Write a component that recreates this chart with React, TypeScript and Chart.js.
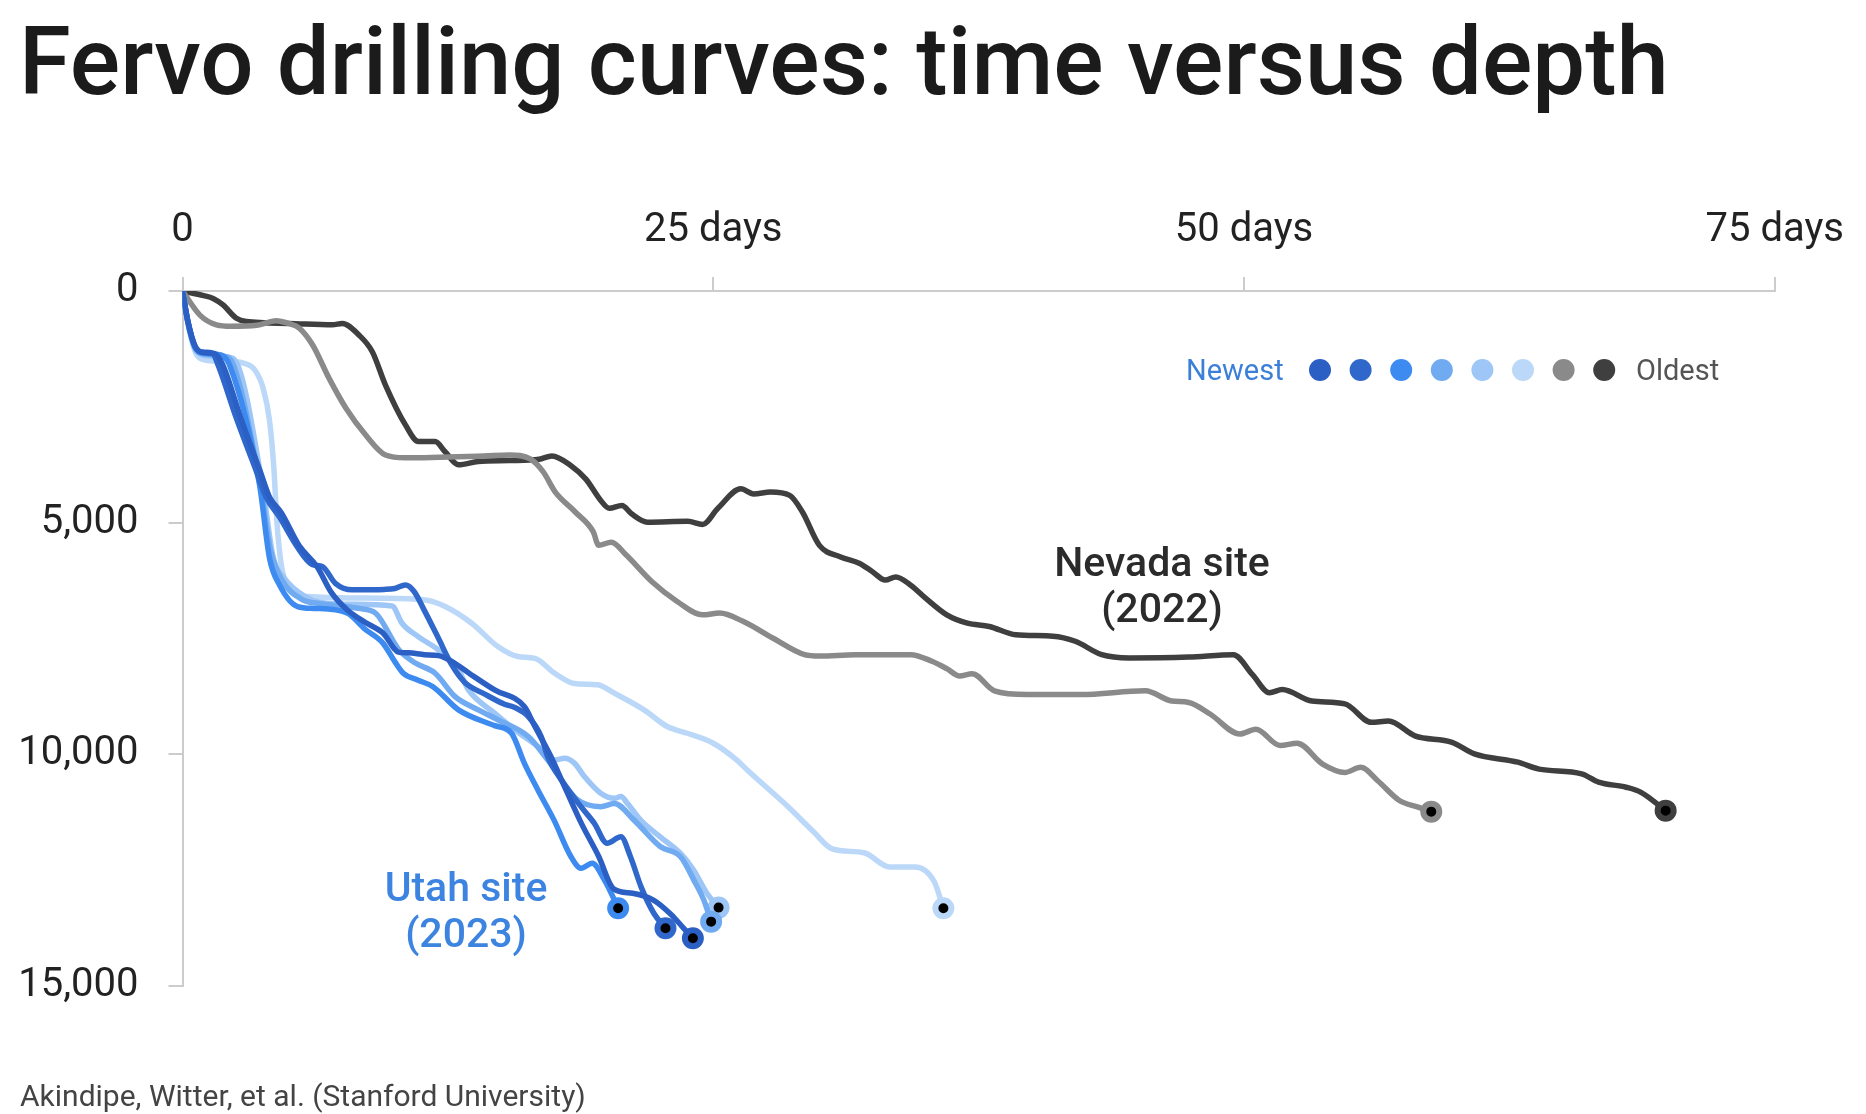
import { useEffect, useRef } from "react";
import { Chart, registerables } from "chart.js";

Chart.register(...registerables);

// [days, depth in feet]
type Pt = [number, number];

const xTicks = [0, 25, 50, 75];
const yTicks = [0, 5000, 10000, 15000];

// Utah site (2023), newest first
const utahA: Pt[] = [
  [0, 0], [0.25, 650], [0.6, 1200], [1.0, 1330], [1.5, 1350], [1.9, 1600], [2.75, 2750], [3.65, 3880],
  [4.1, 4450], [4.66, 4790], [5.5, 5500], [6.34, 5950], [7.0, 6500], [7.75, 6880], [8.6, 7150], [9.44, 7380],
  [10.2, 7800], [10.64, 7810], [11.4, 7850], [12.06, 7870], [12.7, 8000], [13.5, 8250], [14.7, 8610],
  [16.1, 8970], [16.6, 9400], [17.3, 10000], [18.0, 10700], [18.8, 11500], [19.6, 12200], [20.3, 12900],
  [21.2, 13000], [22.2, 13150], [23.0, 13450], [23.6, 13750], [24.04, 13969],
];
const utahB: Pt[] = [
  [0, 0], [0.25, 650], [0.6, 1200], [1.0, 1320], [1.4, 1340], [1.68, 1600], [2.54, 2750], [3.47, 3880],
  [3.94, 4450], [4.57, 4880], [5.4, 5520], [6.1, 5900], [6.6, 5950], [7.2, 6310], [8.0, 6450], [9.5, 6440],
  [10.0, 6420], [10.5, 6345], [10.9, 6480], [11.42, 6920], [12.05, 7490], [12.67, 8060], [13.3, 8450],
  [14.24, 8700], [15.17, 8920], [15.65, 8990], [16.3, 9190], [16.9, 9620], [17.2, 10050], [17.84, 10550],
  [18.77, 11130], [19.4, 11490], [20.0, 11920], [20.65, 11780], [21.1, 12210], [21.6, 12860], [22.2, 13430],
  [22.75, 13753],
];
const utahC: Pt[] = [
  [0, 0], [0.25, 650], [0.6, 1220], [1.0, 1340], [1.8, 1380], [2.22, 1600], [3.63, 4190], [4.1, 5770],
  [4.57, 6345], [5.42, 6810], [6.2, 6850], [7.75, 6950], [8.6, 7300], [9.44, 7600], [10.0, 8000], [10.4, 8250],
  [11.1, 8400], [11.8, 8540], [13.0, 9040], [14.7, 9380], [15.5, 9545], [16.1, 10190], [16.74, 10770],
  [17.5, 11420], [18.3, 12210], [18.77, 12460], [19.3, 12350], [19.87, 12710], [20.34, 13140], [20.52, 13322],
];
const utahD: Pt[] = [
  [0, 0], [0.25, 680], [0.6, 1250], [1.0, 1360], [1.9, 1400], [2.4, 1600], [3.7, 4300], [4.15, 5600],
  [4.7, 6250], [5.6, 6650], [6.5, 6750], [7.5, 6800], [8.3, 6850], [9.1, 6955], [10.2, 7750], [10.97, 8030],
  [11.9, 8250], [12.84, 8755], [13.93, 9040], [14.87, 9260], [16.3, 9620], [17.2, 10120], [18.6, 10980],
  [19.7, 11130], [20.34, 11060], [21.27, 11420], [22.5, 11990], [23.46, 12210], [24.08, 12710],
  [24.55, 13140], [24.9, 13611],
];
const utahE: Pt[] = [
  [0, 0], [0.3, 750], [0.7, 1300], [1.2, 1400], [2.1, 1420], [2.6, 1600], [3.8, 4300], [4.25, 5700],
  [4.8, 6200], [5.8, 6600], [6.5, 6720], [8.0, 6760], [9.87, 6800], [10.34, 7170], [11.1, 7460], [12.06, 7750],
  [13.0, 8180], [13.47, 8610], [14.7, 9110], [15.65, 9470], [16.74, 9830], [17.53, 10120], [18.0, 10085],
  [18.46, 10190], [18.93, 10480], [19.7, 10840], [20.34, 10950], [20.65, 10910], [20.96, 11060],
  [21.58, 11420], [22.5, 11780], [23.46, 12140], [24.08, 12500], [24.7, 13000], [25.25, 13308],
];
const utahF: Pt[] = [
  [0, 0], [0.3, 800], [0.7, 1400], [1.2, 1500], [2.0, 1520], [2.9, 1560], [3.4, 1700], [3.8, 2100],
  [4.1, 2800], [4.3, 3800], [4.45, 5000], [4.65, 5900], [5.0, 6400], [6.13, 6600], [9.25, 6630], [11.44, 6670],
  [12.37, 6810], [13.62, 7170], [14.87, 7680], [15.8, 7890], [16.6, 7930], [17.53, 8250], [18.46, 8470],
  [19.56, 8500], [20.34, 8680], [21.74, 9040], [22.83, 9400], [23.77, 9545], [25.0, 9760], [26.1, 10120],
  [26.6, 10340], [28.5, 11120], [29.7, 11660], [30.6, 12040], [32.1, 12125], [33.3, 12430], [34.5, 12430],
  [35.4, 12740], [35.84, 13322],
];

// Nevada site (2022)
const nevadaB: Pt[] = [
  [0, 0], [0.82, 520], [1.6, 730], [2.3, 760], [3.5, 740], [4.41, 640], [5.0, 700], [5.5, 800], [6.13, 1165],
  [6.9, 1880], [7.7, 2530], [8.63, 3110], [9.56, 3540], [10.5, 3600], [14.2, 3560], [15.4, 3540], [16.4, 3630],
  [17.0, 3910], [17.56, 4340], [18.5, 4770], [19.35, 5200], [19.6, 5490], [20.2, 5420], [20.9, 5700],
  [22.1, 6270], [23.3, 6700], [24.5, 6990], [25.3, 6950], [26.4, 7130], [27.8, 7490], [29.3, 7850],
  [30.0, 7880], [31.7, 7850], [34.3, 7850], [35.3, 7990], [36.0, 8150], [36.6, 8310], [37.2, 8260],
  [38.24, 8630], [39.8, 8710], [42.3, 8710], [45.35, 8630], [46.6, 8850], [47.4, 8880], [48.4, 9130],
  [49.8, 9560], [50.56, 9460], [51.7, 9810], [52.5, 9760], [53.7, 10210], [54.75, 10390], [55.5, 10280],
  [56.3, 10570], [57.3, 10990], [58.2, 11140], [58.82, 11237],
];
const nevadaA: Pt[] = [
  [0, 0], [1.0, 100], [1.44, 160], [1.91, 300], [2.54, 590], [3.0, 660], [5.0, 700], [7.06, 730], [7.53, 700],
  [8.31, 950], [8.94, 1310], [9.56, 2030], [10.5, 2890], [11.12, 3250], [11.9, 3250], [12.37, 3470],
  [13.0, 3750], [13.93, 3680], [15.4, 3660], [16.8, 3630], [17.4, 3560], [18.3, 3770], [19.0, 4060],
  [19.7, 4520], [20.1, 4690], [20.7, 4630], [21.15, 4810], [21.9, 4990], [23.8, 4970], [24.5, 5040],
  [25.2, 4700], [26.3, 4270], [26.9, 4380], [27.7, 4340], [28.6, 4410], [29.2, 4770], [30.0, 5490],
  [31.0, 5740], [31.9, 5880], [32.5, 6060], [33.1, 6240], [33.6, 6170], [34.3, 6350], [35.0, 6630],
  [36.0, 6990], [36.97, 7170], [38.0, 7240], [39.25, 7420], [41.0, 7450], [42.05, 7560], [43.3, 7850],
  [44.6, 7920], [47.4, 7900], [49.5, 7850], [50.4, 8280], [51.2, 8670], [51.8, 8600], [53.2, 8850],
  [54.75, 8910], [56.0, 9310], [56.8, 9280], [58.05, 9600], [59.8, 9740], [60.85, 9990], [62.9, 10170],
  [63.9, 10320], [65.9, 10420], [66.7, 10600], [68.0, 10710], [68.7, 10820], [69.86, 11215],
];

// newest -> oldest, same order as the legend dots
const wells = [utahA, utahB, utahC, utahD, utahE, utahF, nevadaB, nevadaA];
const wellColors = ["#2b5fc3", "#2f68ca", "#3d8bf0", "#70aaf1", "#9ec6f6", "#bcd8f9", "#8a8a8a", "#3f3f3f"];

const title = "Fervo drilling curves: time versus depth";
const source = "Akindipe, Witter, et al. (Stanford University)";

const textPlugin = {
  id: "textLayer",
  afterDraw(chart: Chart) {
    const ctx = chart.ctx;
    ctx.save();
    ctx.textBaseline = "alphabetic";

    ctx.textAlign = "left";
    ctx.fillStyle = "#1b1b1b";
    ctx.font = "500 94px Roboto";
    ctx.fillText(title, 19, 94);

    ctx.fillStyle = "#444";
    ctx.font = "400 30px Roboto";
    ctx.fillText(source, 20, 1106);

    // legend: Newest ● ● ● ... Oldest
    ctx.font = "400 29px Roboto";
    ctx.fillStyle = "#3c7fd8";
    ctx.fillText("Newest", 1186, 380);
    wellColors.forEach((c, i) => {
      ctx.beginPath();
      ctx.arc(1320 + i * 40.6, 370, 11, 0, Math.PI * 2);
      ctx.fillStyle = c;
      ctx.fill();
    });
    ctx.fillStyle = "#555";
    ctx.fillText("Oldest", 1636, 380);

    ctx.textAlign = "center";
    ctx.font = "500 41px Roboto";
    ctx.fillStyle = "#2b2b2b";
    ctx.fillText("Nevada site", 1162, 576);
    ctx.fillText("(2022)", 1162, 622);
    ctx.fillStyle = "#3c84e0";
    ctx.fillText("Utah site", 466, 901);
    ctx.fillText("(2023)", 466, 947);
    ctx.restore();
  },
};

export default function App() {
  const canvasRef = useRef<HTMLCanvasElement>(null);
  const chartRef = useRef<Chart | null>(null);

  useEffect(() => {
    if (!canvasRef.current) return;
    chartRef.current?.destroy();
    const tickFont = { family: "Roboto", size: 40 };
    const axisGrid = { drawOnChartArea: false, drawTicks: true, tickLength: 14, color: "#cccccc", lineWidth: 2 };
    chartRef.current = new Chart(canvasRef.current, {
      type: "line",
      data: {
        datasets: wells.map((pts, i) => ({
          data: pts.map(([x, y]) => ({ x, y })),
          borderColor: wellColors[i],
          borderWidth: 5.5,
          cubicInterpolationMode: "monotone" as const,
          borderCapStyle: "round" as const,
          borderJoinStyle: "round" as const,
          pointRadius: (c: any) => (c.dataIndex === pts.length - 1 ? 8 : 0),
          pointHoverRadius: 0,
          pointBorderWidth: 6,
          pointBackgroundColor: "#000",
          pointBorderColor: wellColors[i],
          fill: false,
        })),
      },
      options: {
        animation: false,
        responsive: true,
        maintainAspectRatio: false,
        events: [],
        layout: { padding: { left: 0, top: 0, right: 79, bottom: 128 } },
        plugins: { legend: { display: false }, tooltip: { enabled: false } },
        scales: {
          x: {
            type: "linear",
            position: "top",
            min: 0,
            max: 75,
            afterBuildTicks: (s: any) => {
              s.ticks = xTicks.map((value) => ({ value }));
            },
            afterFit: (s: any) => {
              s.height = 291;
            },
            ticks: {
              callback: (v: any) => (v === 0 ? "0" : `${v} days`),
              font: tickFont,
              color: "#222",
              padding: 22,
              maxRotation: 0,
              autoSkip: false,
            },
            grid: axisGrid,
            border: { color: "#cccccc", width: 2 },
          },
          y: {
            type: "linear",
            reverse: true,
            min: 0,
            max: 15000,
            afterBuildTicks: (s: any) => {
              s.ticks = yTicks.map((value) => ({ value }));
            },
            afterFit: (s: any) => {
              s.width = 182.5;
            },
            ticks: {
              callback: (v: any) => Number(v).toLocaleString("en-US"),
              font: tickFont,
              color: "#222",
              padding: 30,
              autoSkip: false,
            },
            grid: axisGrid,
            border: { color: "#cccccc", width: 2 },
          },
        },
      },
      plugins: [textPlugin],
    });
    return () => chartRef.current?.destroy();
  }, []);

  return (
    <div style={{ position: "fixed", left: 0, top: 0, width: 1866, height: 1114, background: "#fff" }}>
      <canvas ref={canvasRef} />
    </div>
  );
}
